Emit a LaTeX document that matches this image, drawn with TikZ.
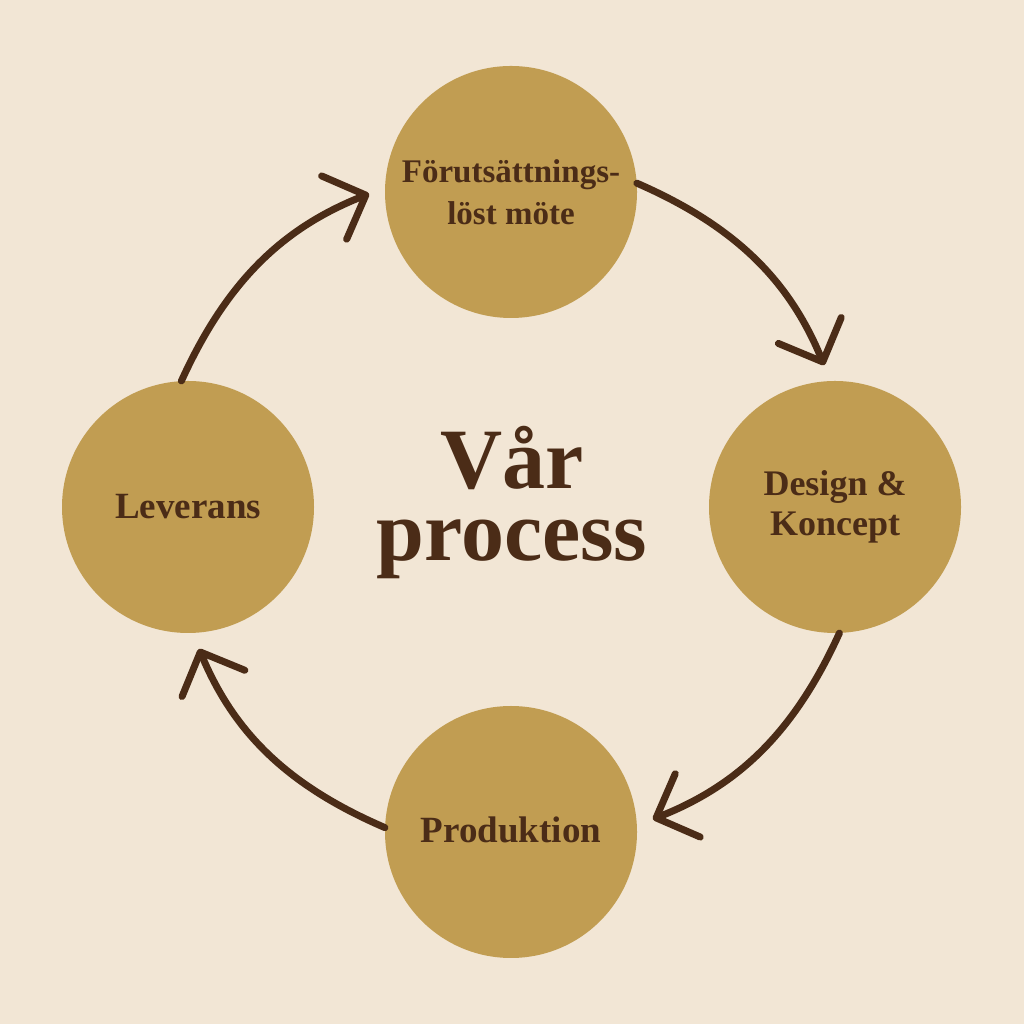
\documentclass[tikz,border=0pt]{standalone}
\usepackage{fontspec}
\setmainfont{Liberation Serif}
\usetikzlibrary{arrows.meta}
\definecolor{bg}{HTML}{F2E6D5}
\definecolor{gold}{HTML}{C19D52}
\definecolor{brown}{HTML}{4B2C17}
\begin{document}
\begin{tikzpicture}[x=1pt,y=1pt,
  stage/.style={circle, fill=gold, minimum size=252pt, inner sep=0pt, text=brown, align=center},
  arr/.style={draw=brown, line width=7pt, line cap=round, shorten >=17pt,
    -{Straight Barb[length=34pt,width=68pt,round]}}]
\fill[bg] (0,0) rectangle (1024,1024);
\useasboundingbox (0,0) rectangle (1024,1024);
\node[stage, font=\bfseries\fontsize{33}{42}\selectfont] (top) at (511,832) {Förutsättnings-\\löst möte};
\node[stage, font=\bfseries\fontsize{36}{40}\selectfont] (right) at (835,517) {Design \&\\Koncept};
\node[stage, font=\bfseries\fontsize{37}{40}\selectfont] (bottom) at (511,192) {\raisebox{5pt}{Produktion}};
\node[stage, font=\bfseries\fontsize{37}{40}\selectfont] (left) at (188,517) {Leverans};
\node[text=brown, font=\bfseries\fontsize{86}{72}\selectfont, align=center] (title) at (512,521) {Vår\\process};
\draw[arr] (top.4) to[bend left=22] (right.92);
\draw[arr] (right.-88) to[bend left=22] (bottom.3);
\draw[arr] (bottom.178) to[bend left=22] (left.-88);
\draw[arr] (left.93) to[bend left=22] (top.178);
\end{tikzpicture}
\end{document}
